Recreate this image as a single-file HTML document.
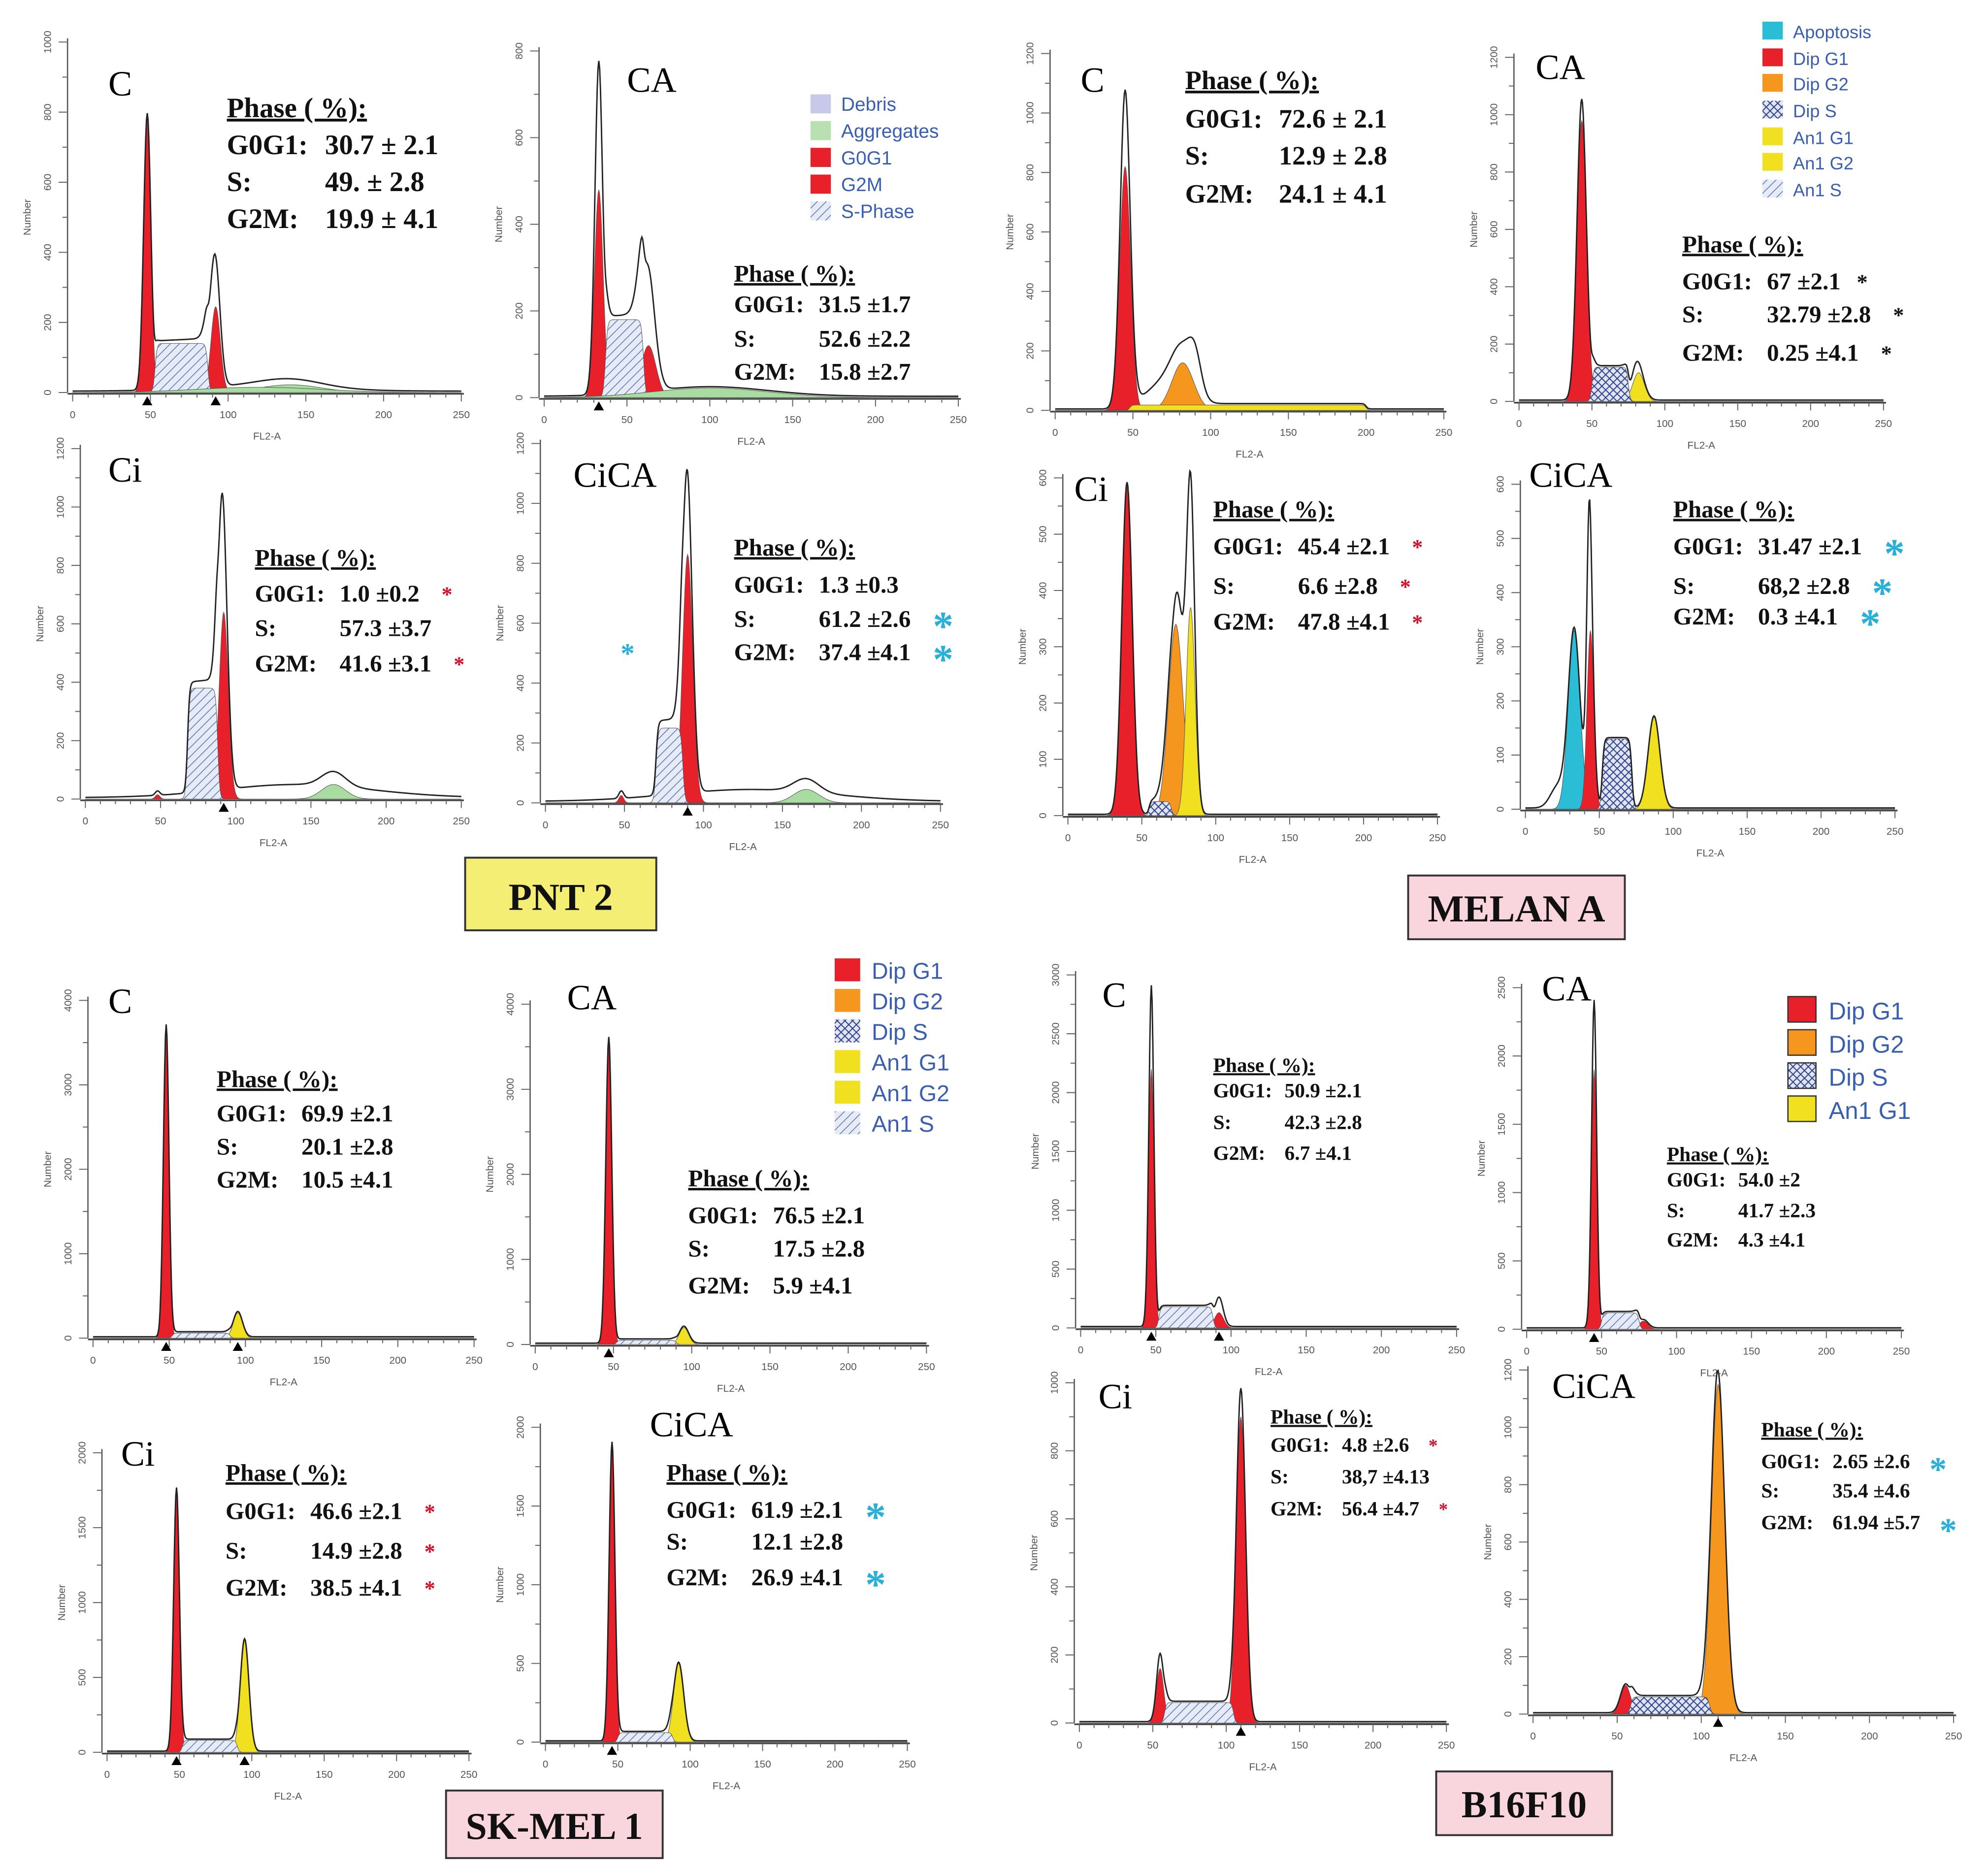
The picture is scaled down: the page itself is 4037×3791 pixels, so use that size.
<!DOCTYPE html>
<html><head><meta charset="utf-8">
<style>
html,body{margin:0;padding:0;background:#fff;}
svg{display:block;}
.tk{font-family:"Liberation Sans",sans-serif;font-size:8px;fill:#555;}
.pl{font-family:"Liberation Serif",serif;font-size:28px;fill:#000;}
.ph{font-family:"Liberation Serif",serif;font-weight:bold;fill:#111;}
.lg{font-family:"Liberation Sans",sans-serif;fill:#3a5fb0;}
.bx{font-family:"Liberation Serif",serif;font-weight:bold;font-size:30px;fill:#111;}
</style></head>
<body>
<svg id="fig" width="4037" height="3791" viewBox="0 0 1560 1465" preserveAspectRatio="none" xmlns="http://www.w3.org/2000/svg">
<defs>
<pattern id="hatch" patternUnits="userSpaceOnUse" width="5" height="5" patternTransform="rotate(45)">
<rect width="5" height="5" fill="#e6ebf5"/><line x1="0" y1="0" x2="0" y2="5" stroke="#5a78c0" stroke-width="1.2"/>
</pattern>
<pattern id="xhatch" patternUnits="userSpaceOnUse" width="6" height="6">
<rect width="6" height="6" fill="#dfe5f3"/><path d="M0 0L6 6M6 0L0 6" stroke="#33448a" stroke-width="0.8"/>
</pattern>
</defs>
<g id="panels"></g>
<g id="texts">
<rect x="365" y="673" width="150" height="57" fill="#f5ee75" stroke="#333" stroke-width="1.5"/>
<text class="bx" x="440" y="714" text-anchor="middle">PNT 2</text>
<rect x="1105" y="687" width="170" height="50" fill="#f9d5de" stroke="#333" stroke-width="1.5"/>
<text class="bx" x="1190" y="723" text-anchor="middle">MELAN A</text>
<rect x="350" y="1405" width="170" height="53" fill="#f9d5de" stroke="#333" stroke-width="1.5"/>
<text class="bx" x="435" y="1443" text-anchor="middle">SK-MEL 1</text>
<rect x="1127" y="1390" width="138" height="50" fill="#f9d5de" stroke="#333" stroke-width="1.5"/>
<text class="bx" x="1196" y="1426" text-anchor="middle">B16F10</text>

<g class="lg" font-size="15">
<rect x="636" y="74" width="16" height="15" fill="#c8c8e8"/><text x="660" y="87">Debris</text>
<rect x="636" y="95" width="16" height="15" fill="#b8e0b0"/><text x="660" y="108">Aggregates</text>
<rect x="636" y="116" width="16" height="15" fill="#e8202a"/><text x="660" y="129">G0G1</text>
<rect x="636" y="137" width="16" height="15" fill="#e8202a"/><text x="660" y="150">G2M</text>
<rect x="636" y="158" width="16" height="15" fill="url(#hatch)"/><text x="660" y="171">S-Phase</text>
</g>
<g class="lg" font-size="14">
<rect x="1383" y="17" width="16" height="14" fill="#2bbcd6"/><text x="1407" y="30">Apoptosis</text>
<rect x="1383" y="38" width="16" height="14" fill="#e8202a"/><text x="1407" y="51">Dip G1</text>
<rect x="1383" y="58" width="16" height="14" fill="#f5961e"/><text x="1407" y="71">Dip G2</text>
<rect x="1383" y="79" width="16" height="14" fill="url(#xhatch)"/><text x="1407" y="92">Dip S</text>
<rect x="1383" y="100" width="16" height="14" fill="#f0e020"/><text x="1407" y="113">An1 G1</text>
<rect x="1383" y="120" width="16" height="14" fill="#f0e020"/><text x="1407" y="133">An1 G2</text>
<rect x="1383" y="141" width="16" height="14" fill="url(#hatch)"/><text x="1407" y="154">An1 S</text>
</g>
<g class="lg" font-size="18">
<rect x="655" y="752" width="20" height="18" fill="#e8202a"/><text x="684" y="768">Dip G1</text>
<rect x="655" y="776" width="20" height="18" fill="#f5961e"/><text x="684" y="792">Dip G2</text>
<rect x="655" y="800" width="20" height="18" fill="url(#xhatch)"/><text x="684" y="816">Dip S</text>
<rect x="655" y="824" width="20" height="18" fill="#f0e020"/><text x="684" y="840">An1 G1</text>
<rect x="655" y="848" width="20" height="18" fill="#f0e020"/><text x="684" y="864">An1 G2</text>
<rect x="655" y="872" width="20" height="18" fill="url(#hatch)"/><text x="684" y="888">An1 S</text>
</g>
<g class="lg" font-size="19">
<rect x="1403" y="782" width="22" height="20" fill="#e8202a" stroke="#333"/><text x="1435" y="800">Dip G1</text>
<rect x="1403" y="808" width="22" height="20" fill="#f5961e" stroke="#333"/><text x="1435" y="826">Dip G2</text>
<rect x="1403" y="834" width="22" height="20" fill="url(#xhatch)" stroke="#333"/><text x="1435" y="852">Dip S</text>
<rect x="1403" y="860" width="22" height="20" fill="#f0e020" stroke="#333"/><text x="1435" y="878">An1 G1</text>
</g>
</g>
</svg>
<script>
const ax = [
 {id:'pnt2-c', x0:57,x1:362,yb:308,yt:33,ymax:1000,ystep:200},
 {id:'pnt2-ca', x0:427,x1:752,yb:312,yt:40,ymax:800,ystep:200},
 {id:'pnt2-ci', x0:67,x1:362,yb:627,yt:352,ymax:1200,ystep:200},
 {id:'pnt2-cica', x0:428,x1:738,yb:630,yt:348,ymax:1200,ystep:200},
 {id:'melan-c', x0:828,x1:1133,yb:322,yt:42,ymax:1200,ystep:200},
 {id:'melan-ca', x0:1192,x1:1478,yb:315,yt:45,ymax:1200,ystep:200},
 {id:'melan-ci', x0:838,x1:1128,yb:640,yt:375,ymax:600,ystep:100},
 {id:'melan-cica', x0:1197,x1:1487,yb:635,yt:380,ymax:600,ystep:100},
 {id:'skmel-c', x0:73,x1:372,yb:1050,yt:785,ymax:4000,ystep:1000},
 {id:'skmel-ca', x0:420,x1:727,yb:1055,yt:788,ymax:4000,ystep:1000},
 {id:'skmel-ci', x0:84,x1:368,yb:1375,yt:1140,ymax:2000,ystep:500},
 {id:'skmel-cica', x0:428,x1:712,yb:1367,yt:1120,ymax:2000,ystep:500},
 {id:'b16-c', x0:848,x1:1143,yb:1042,yt:765,ymax:3000,ystep:500},
 {id:'b16-ca', x0:1198,x1:1492,yb:1043,yt:775,ymax:2500,ystep:500},
 {id:'b16-ci', x0:847,x1:1135,yb:1352,yt:1085,ymax:1000,ystep:200},
 {id:'b16-cica', x0:1203,x1:1533,yb:1345,yt:1075,ymax:1200,ystep:200}
];
const xTicks = [0,50,100,150,200,250];
const pnt2C = [[48,790,2.3,'red'],[92,245,3,'red'],[53,140,87,'S'],[90,150,3.5,'line'],[140,22,20,'green'],[120,15,40,'green']];
const pnt2CA = [[33,480,2.6,'red'],[63,120,4.5,'red'],[37,180,60,'S'],[33,290,2,'line'],[62,170,4,'line'],[100,22,35,'green']];
const pnt2Ci = [[48,15,1.5,'red'],[92,640,3,'red'],[68,380,88,'S'],[90,440,2.5,'line'],[165,50,8,'green'],[140,45,50,'line']];
const pnt2CiCA = [[48,25,1.5,'red'],[90,830,3.2,'red'],[70,250,87,'S'],[89,260,2.5,'line'],[165,45,8,'green'],[130,40,50,'line']];
const melanC = [[45,820,3.5,'red'],[82,160,7,'orange'],[48,18,200,'yellowS'],[45,250,2.5,'line'],[90,110,4,'line'],[70,70,10,'line']];
const melanCA = [[43,980,3.3,'red'],[82,100,4,'yellow'],[50,120,75,'X'],[43,70,2,'line'],[80,40,3,'line']];
const melanCi = [[40,590,3.5,'red'],[73,340,5,'orange'],[83,370,3,'yellow'],[55,25,70,'X'],[83,190,2.5,'line'],[75,60,3,'line']];
const melanCiCA = [[33,330,4,'cyan'],[44,330,2.3,'red'],[52,130,72,'X'],[87,170,4,'yellow'],[43,250,1.5,'line'],[22,40,5,'line']];
const skmelC = [[48,3700,1.8,'red'],[95,300,3,'yellow'],[52,60,90,'S']];
const skmelCA = [[47,3600,1.9,'red'],[95,200,3,'yellow'],[52,50,90,'S']];
const skmelCi = [[48,1760,2,'red'],[95,750,3,'yellow'],[52,80,90,'S']];
const skmelCiCA = [[46,1900,2,'red'],[92,500,3.5,'yellow'],[50,60,88,'S']];
const b16C = [[47,2200,1.8,'red'],[92,130,3,'red'],[52,180,88,'S'],[47,700,1.3,'line'],[92,120,2.5,'line']];
const b16CA = [[45,1900,1.8,'red'],[78,60,3,'red'],[50,120,75,'S'],[45,500,1.3,'line']];
const b16Ci = [[55,160,2.5,'red'],[110,900,3.2,'red'],[58,60,105,'S'],[55,40,2,'line'],[110,80,2.5,'line']];
const b16CiCA = [[55,100,3,'red'],[110,1150,4,'orange'],[58,60,105,'X'],[108,60,2.5,'line']];
const allPeaks = [pnt2C,pnt2CA,pnt2Ci,pnt2CiCA,melanC,melanCA,melanCi,melanCiCA,skmelC,skmelCA,skmelCi,skmelCiCA,b16C,b16CA,b16Ci,b16CiCA];
const markers = [[48,92],[33],[92],[90],[],[],[],[],[48,95],[47],[48,95],[46],[47,92],[45],[110],[110]];

const NS='http://www.w3.org/2000/svg';
const root=document.getElementById('panels');
function mk(tag,attrs,parent){const e=document.createElementNS(NS,tag);for(const k in attrs)e.setAttribute(k,attrs[k]);(parent||root).appendChild(e);return e;}
const fillOf={red:'#e8202a',orange:'#f5961e',yellow:'#f0e020',cyan:'#2bbcd6',green:'#a8dca0',S:'url(#hatch)',X:'url(#xhatch)',yellowS:'#f0e020'};
function comp(p,x){
 const k=p[3];
 if(k==='S'||k==='X'||k==='yellowS'){const a=p[0],b=p[2];return p[1]/(1+Math.exp(-(x-a)*1.5))/(1+Math.exp((x-b)*1.5));}
 return p[1]*Math.exp(-0.5*Math.pow((x-p[0])/p[2],2));
}
ax.forEach((A,i)=>{
 const g=mk('g',{});
 
 
 const sx=v=>A.x0+(A.x1-A.x0)*v/250;
 const sy=v=>A.yb-(A.yb-A.yt)*v/A.ymax;
 const peaks=allPeaks[i];
 const xs=[];for(let x=0;x<=250;x+=0.5)xs.push(x);
 peaks.forEach(p=>{
  if(p[3]==='line')return;
  let d='M'+sx(0)+' '+A.yb;
  xs.forEach(x=>{d+=' L'+sx(x).toFixed(2)+' '+sy(comp(p,x)).toFixed(2);});
  d+=' L'+sx(250)+' '+A.yb+' Z';
  const pa=mk('path',{d:d,fill:fillOf[p[3]],stroke:'#555','stroke-width':0.4},g);
  
  
 });
 let d='';
 xs.forEach((x,j)=>{let s=0;peaks.forEach(p=>s+=comp(p,x));s+=A.ymax*0.004;d+=(j?' L':'M')+sx(x).toFixed(2)+' '+sy(s).toFixed(2);});
 const ol=mk('path',{d:d,fill:'none',stroke:'#222','stroke-width':1.1},g);
 
 
 const yl=mk('line',{x1:A.x0-4,y1:A.yb,x2:A.x0-4,y2:A.yt-3,stroke:'#555','stroke-width':1},g);
 
 
 const xl=mk('line',{x1:A.x0-4,y1:A.yb+1,x2:A.x1+2,y2:A.yb+1,stroke:'#444','stroke-width':1.3},g);
 
 
 for(let v=0;v<=250;v+=10){mk('line',{x1:sx(v),y1:A.yb+1,x2:sx(v),y2:A.yb+(v%50?4:7),stroke:'#666','stroke-width':0.8},g);}
 xTicks.forEach(v=>{const t=mk('text',{x:sx(v),y:A.yb+20,class:'tk','text-anchor':'middle'},g);t.textContent=v;
  
  });
 for(let v=0;v<=A.ymax;v+=A.ystep/2){mk('line',{x1:A.x0-4,y1:sy(v),x2:A.x0-(v%A.ystep?8:11),y2:sy(v),stroke:'#666','stroke-width':0.8},g);}
 for(let v=0;v<=A.ymax;v+=A.ystep){const t=mk('text',{x:0,y:0,class:'tk','text-anchor':'middle',transform:'translate('+(A.x0-17)+' '+sy(v)+') rotate(-90)'},g);t.textContent=v;
  
  }
 const nl=mk('text',{class:'tk','text-anchor':'middle',transform:'translate('+(A.x0-33)+' '+((A.yb+A.yt)/2)+') rotate(-90)'},g);nl.textContent='Number';
 
 
 const fl=mk('text',{x:(A.x0+A.x1)/2,y:A.yb+37,class:'tk','text-anchor':'middle'},g);fl.textContent='FL2-A';
 
 
 markers[i].forEach(c=>{const tr=mk('path',{d:'M'+(sx(c)-4)+' '+(A.yb+10)+' L'+(sx(c)+4)+' '+(A.yb+10)+' L'+sx(c)+' '+(A.yb+3)+' Z',fill:'#000'},g);
  
  });
});
const labels=[['C',85,75],['CA',492,72],['Ci',85,378],['CiCA',450,382],['C',848,72],['CA',1205,62],['Ci',843,393],['CiCA',1200,382],['C',85,795],['CA',445,792],['Ci',95,1150],['CiCA',510,1127],['C',865,790],['CA',1210,785],['Ci',862,1105],['CiCA',1218,1097]];
labels.forEach(l=>{const t=mk('text',{x:l[1],y:l[2],class:'pl'});t.textContent=l[0];
 
 });
const tables=[
 [178,92,[121,150,179],22,['30.7 ± 2.1','49. ± 2.8','19.9 ± 4.1'],null],
 [576,221,[245,272,298],19,['31.5 ±1.7','52.6 ±2.2','15.8 ±2.7'],null],
 [200,444,[472,499,527],19,['1.0 ±0.2','57.3 ±3.7','41.6 ±3.1'],'r02'],
 [576,436,[465,492,518],19,['1.3 ±0.3','61.2 ±2.6','37.4 ±4.1'],'c12'],
 [930,70,[100,129,159],21,['72.6 ± 2.1','12.9 ± 2.8','24.1 ± 4.1'],null],
 [1320,198,[227,253,283],19,['67 ±2.1','32.79 ±2.8','0.25 ±4.1'],'k'],
 [952,406,[435,466,494],19,['45.4 ±2.1','6.6 ±2.8','47.8 ±4.1'],'r'],
 [1313,406,[435,466,490],19,['31.47 ±2.1','68,2 ±2.8','0.3 ±4.1'],'c'],
 [170,853,[880,906,932],19,['69.9 ±2.1','20.1 ±2.8','10.5 ±4.1'],null],
 [540,931,[960,986,1015],19,['76.5 ±2.1','17.5 ±2.8','5.9 ±4.1'],null],
 [177,1162,[1192,1223,1252],19,['46.6 ±2.1','14.9 ±2.8','38.5 ±4.1'],'r'],
 [523,1162,[1191,1216,1244],19,['61.9 ±2.1','12.1 ±2.8','26.9 ±4.1'],'c02'],
 [952,841,[861,886,910],16,['50.9 ±2.1','42.3 ±2.8','6.7 ±4.1'],null],
 [1308,911,[931,955,978],16,['54.0 ±2','41.7 ±2.3','4.3 ±4.1'],null],
 [997,1117,[1139,1164,1189],16,['4.8 ±2.6','38,7 ±4.13','56.4 ±4.7'],'r02'],
 [1382,1127,[1152,1175,1200],16,['2.65 ±2.6','35.4 ±4.6','61.94 ±5.7'],'c02']
];
const rowNames=['G0G1:','S:','G2M:'];
tables.forEach(T=>{
 const g=mk('g',{});
 
 
 const f=T[3];
 const h=mk('text',{x:T[0],y:T[1],class:'ph','font-size':f,'text-decoration':'underline'},g);h.textContent='Phase   ( %):';
 T[2].forEach((y,k)=>{
  const a=mk('text',{x:T[0],y:y,class:'ph','font-size':f},g);a.textContent=rowNames[k];
  const b=mk('text',{x:T[0]+f*3.5,y:y,class:'ph','font-size':f},g);b.textContent=T[4][k];
  if(T[5]){const mode=T[5];const col=mode[0]==='r'?'#d0102a':mode[0]==='c'?'#2ab0d8':'#111';
   const rows=mode.length>1?mode.slice(1).split('').map(Number):[0,1,2];
   if(rows.indexOf(k)>=0){const s=mk('text',{x:T[0]+f*3.5+T[4][k].length*f*0.5+4,y:y+(mode[0]==='c'?10:0),class:'ph','font-size':mode[0]==='c'?f*1.7:f*0.9,style:'fill:'+col},g);s.textContent='*';
    
    }}
 });
});
const cs=mk('text',{x:487,y:520,'font-size':22,style:'fill:#2ab0d8',class:'ph'});cs.textContent='*';


</script>
</body></html>
